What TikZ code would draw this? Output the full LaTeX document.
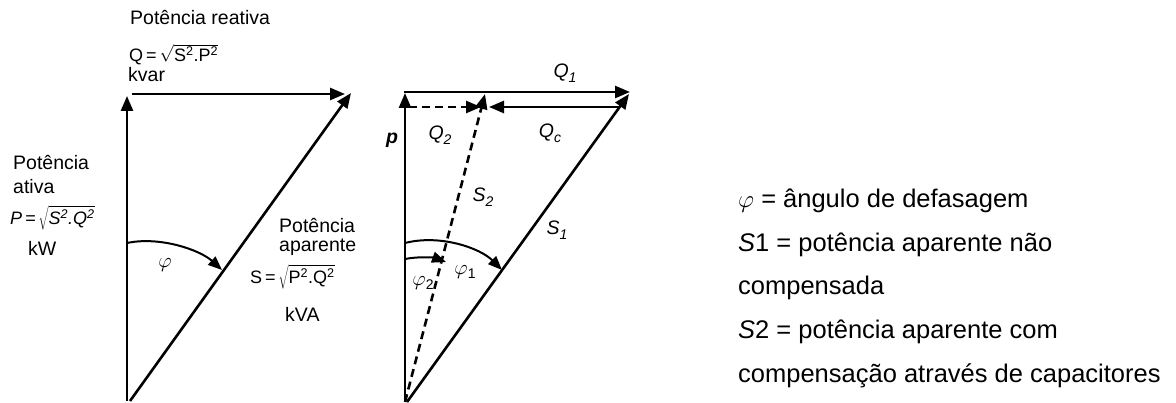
\documentclass[tikz,border=0pt]{standalone}
\usepackage{fontspec}
\setmainfont{Liberation Sans}
\usetikzlibrary{arrows.meta}
\newcommand\sbs[1]{\raisebox{-0.45ex}{\fontsize{14}{14}\selectfont #1}}
\begin{document}
\begin{tikzpicture}[x=1pt,y=-1pt,
  vec/.style={line width=2.6pt,-{Triangle[length=15pt,width=12pt]}},
  dvec/.style={vec,dash pattern=on 8pt off 5pt},
  angarc/.style={line width=2pt,-{Triangle[length=14pt,width=11pt]}},
  lbl/.style={font=\fontsize{19.5}{22}\selectfont,inner sep=0pt},
  wlbl/.style={lbl,anchor=west},
  flbl/.style={font=\fontsize{18}{20}\selectfont,inner sep=0pt,anchor=west},
  big/.style={font=\fontsize{25.5}{30}\selectfont,inner sep=0pt,anchor=base west}]
\useasboundingbox (0,0) rectangle (1176,403);

% ---------- left triangle ----------
\coordinate (LO) at (127,401);
\coordinate (LP) at (127,96);
\coordinate (LQs) at (132,94);
\coordinate (LQe) at (345,94);
\coordinate (LSo) at (130,401);
\coordinate (LSe) at (351,93);
\coordinate (La) at (127,243);
\coordinate (Lb) at (222,270);
\draw[vec] (LO) -- (LP);
\draw[vec] (LQs) -- (LQe);
\draw[vec] (LSo) -- (LSe);
\draw[angarc] (La) .. controls (160,236) and (200,250) .. (Lb);

\node[wlbl] (t1) at (130,18) {Potência reativa};
\node[flbl] (t2) at (129,55) {Q\,=\,$\sqrt{\mbox{S\textsuperscript{2}.P\textsuperscript{2}}}$};
\node[wlbl] (t3) at (128,75) {kvar};
\node[wlbl] (t4) at (13,162) {Potência};
\node[wlbl] (t5) at (13,187) {ativa};
\node[flbl] (t6) at (10,218) {\itshape P\,=\,$\sqrt{\mbox{\itshape S\textsuperscript{2}.Q\textsuperscript{2}}}$};
\node[wlbl] (t7) at (28,248) {kW};
\node[wlbl] (t8) at (279,225) {Potência};
\node[wlbl] (t9) at (279,247) {aparente};
\node[flbl] (t10) at (250,277) {S\,=\,$\sqrt{\mbox{P\textsuperscript{2}.Q\textsuperscript{2}}}$};
\node[wlbl] (t11) at (285,314) {kVA};
\node[lbl] (phi) at (165,265) {$\varphi$};

% ---------- right triangle ----------
\coordinate (RO) at (405,402);
\coordinate (RP) at (405,93);
\coordinate (RQ1s) at (404,92);
\coordinate (RQ1e) at (630,92);
\coordinate (RQ2s) at (409,107);
\coordinate (RQ2e) at (481,107);
\coordinate (RQcs) at (620,107);
\coordinate (RQce) at (489,107);
\coordinate (RS2o) at (405,402);
\coordinate (RS2e) at (485,94);
\coordinate (RS1o) at (407,402);
\coordinate (RS1e) at (629,94);
\coordinate (Ra1) at (405,243);
\coordinate (Rb1) at (502,270);
\coordinate (Ra2) at (405,259);
\coordinate (Rb2) at (446,262);
\draw[vec] (RO) -- (RP);
\draw[vec] (RQ1s) -- (RQ1e);
\draw[dvec] (RQ2s) -- (RQ2e);
\draw[vec] (RQcs) -- (RQce);
\draw[dvec] (RS2o) -- (RS2e);
\draw[vec] (RS1o) -- (RS1e);
\draw[angarc] (Ra1) .. controls (440,234) and (480,248) .. (Rb1);
\draw[angarc] (Ra2) .. controls (420,256) and (435,258) .. (Rb2);

\node[lbl] (q1) at (565,73) {\itshape Q\sbs{1}};
\node[lbl] (q2) at (440,135) {\itshape Q\sbs{2}};
\node[lbl] (qc) at (550,133) {\itshape Q\sbs{c}};
\node[lbl] (s2) at (483,197) {\itshape S\sbs{2}};
\node[lbl] (s1) at (557,230) {\itshape S\sbs{1}};
\node[lbl] (p) at (392,140) {\itshape\bfseries p};
\node[lbl] (phi1) at (465,272) {$\varphi$\sbs{1}};
\node[lbl] (phi2) at (423,283) {$\varphi$\sbs{2}};

% ---------- legend ----------
\node[big] (g1) at (738,208) {$\varphi$ = ângulo de defasagem};
\node[big] (g2) at (738,251.5) {\textit{S}1 = potência aparente não};
\node[big] (g3) at (738,295) {compensada};
\node[big] (g4) at (738,338.5) {\textit{S}2 = potência aparente com};
\node[big] (g5) at (738,382) {compensação através de capacitores};
\end{tikzpicture}
\end{document}
